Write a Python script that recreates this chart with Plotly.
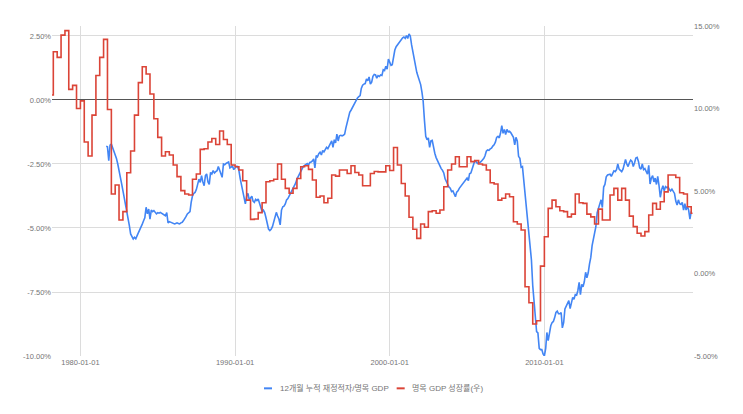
import plotly.graph_objects as go
import pandas as pd

# ---------------- data ----------------
# 12-month cumulative fiscal deficit / nominal GDP (%), monthly from 1981-09
deficit_start = "1981-09-01"
deficit_1981_1985 = [
    -1.81, -1.83, -2.37, -1.76, -1.72, -1.85, -2.0, -2.15, -2.28, -2.5,
    -2.72, -3.0, -3.28, -3.54, -3.8, -4.03, -4.3, -4.6, -4.9, -5.23,
    -5.35, -5.43, -5.36, -5.42, -5.3, -5.2, -5.1, -5.0, -4.85, -4.72,
    -4.6, -4.19, -4.45, -4.26, -4.65, -4.3, -4.36, -4.32, -4.4, -4.45,
    -4.4, -4.42]
deficit_1985_1992 = [
    -4.39, -4.42, -4.45, -4.48, -4.52, -4.40, -4.80, -4.75, -4.78, -4.8,
    -4.82, -4.84, -4.82, -4.80, -4.82, -4.84, -4.8, -4.78, -4.71, -4.65,
    -4.55, -4.45, -4.42, -4.36, -4.0, -3.74, -3.65, -3.61, -3.5, -3.3,
    -3.09, -3.22, -2.96, -3.2, -3.35, -2.95, -2.89, -3.2, -3.3, -2.83,
    -2.89, -2.76, -2.85, -2.8, -2.76, -2.6, -2.75, -2.9, -3.02, -2.5,
    -2.53, -2.48, -2.44, -2.42, -2.65, -2.62, -2.58, -2.72, -2.63, -2.59,
    -2.6, -2.75, -3.06, -3.3, -3.6, -3.9, -4.06, -3.75, -3.65, -3.9,
    -3.85, -3.76, -3.95, -4.0, -3.88, -3.93, -3.87, -4.05, -4.25, -4.36,
    -4.3, -4.4, -4.6, -4.82, -5.04]
deficit_1992_1999 = [
    -5.1, -5.05, -4.95, -4.75, -4.65, -4.39, -4.53, -4.65, -4.88, -4.3,
    -4.17, -4.15, -4.06, -3.9, -3.85, -3.75, -3.67, -3.58, -3.45, -3.36,
    -3.25, -3.09, -2.98, -2.88, -2.8, -2.7, -2.59, -2.55, -2.5, -2.48,
    -2.54, -2.44, -2.42, -2.38, -2.3, -2.65, -2.17, -2.22, -2.1, -2.04,
    -2.15, -1.97, -2.03, -1.92, -1.85, -1.9, -1.78, -1.66, -1.6, -1.85,
    -1.55, -1.68, -1.33, -1.6, -1.4, -1.38, -1.4, -1.38, -1.33, -1.1,
    -0.87, -0.61, -0.48, -0.4, -0.3, -0.2, -0.1, 0.02, 0.08, 0.13,
    0.17, 0.45, 0.58, 0.62, 0.64, 0.82, 0.75, 0.9, 0.62, 0.7,
    0.92, 1.0, 0.98, 0.85, 0.95, 0.92]
deficit_1999_2006 = [
    0.98, 0.96, 1.18, 1.15, 1.32, 1.2, 1.6, 1.48, 1.35, 1.38,
    1.73, 1.95, 2.08, 2.15, 2.23, 2.3, 2.38, 2.43, 2.46, 2.41,
    2.52, 2.4, 2.58, 2.5, 2.15, 1.85, 1.55, 1.25, 1.08, 0.92,
    0.78, 0.6, 0.3, -0.05, -0.8, -1.42, -1.55, -1.48, -1.85, -1.6,
    -1.58, -1.92, -2.08, -2.25, -2.38, -2.5, -2.57, -2.68, -2.75, -2.85,
    -3.08, -3.2, -3.3, -3.4, -3.45, -3.58, -3.55, -3.65, -3.78, -3.6,
    -3.55, -3.45, -3.38, -3.35, -3.28, -3.2, -3.1, -3.05, -3.15, -2.88,
    -2.85, -2.72, -2.55, -2.38, -2.4, -2.48, -2.45, -2.44, -2.4, -2.35,
    -2.28, -2.18, -2.0, -1.95, -1.97]
deficit_2006_2013 = [
    -1.91, -1.88, -1.8, -1.75, -1.65, -1.46, -1.42, -1.48, -1.3, -1.0,
    -1.3, -1.15, -1.35, -1.15, -1.25, -1.22, -1.28, -1.35, -1.46, -1.75,
    -1.46, -1.6, -2.2, -2.28, -2.63, -2.6, -3.1, -3.87, -4.2, -4.7,
    -5.3, -5.6, -6.25, -7.25, -7.97, -8.68, -9.05, -9.1, -9.7, -9.75,
    -9.75, -9.92, -10.0, -9.7, -9.08, -9.4, -9.1, -8.82, -8.7, -8.65,
    -8.5, -8.3, -8.25, -8.35, -8.35, -8.3, -8.9, -8.7, -8.16, -8.05,
    -7.9, -7.84, -8.15, -7.9, -7.71, -7.78, -7.6, -7.62, -7.45, -7.12,
    -7.6, -7.2, -7.3, -7.1, -6.73, -6.95, -6.75, -6.41, -6.15, -5.69,
    -5.45, -5.17, -4.95, -4.4, -4.2, -4.05]
deficit_2013_2019 = [
    -3.9, -4.2, -3.4, -3.3, -3.0, -2.93, -2.9, -2.9, -2.98, -2.85,
    -2.77, -2.8, -2.72, -2.5, -2.7, -2.75, -2.8, -2.7, -2.55, -2.32,
    -2.5, -2.6, -2.45, -2.35, -2.4, -2.6, -2.45, -2.27, -2.24, -2.4,
    -2.65, -2.7, -2.5, -2.72, -2.68, -2.8, -2.9, -2.55, -3.28, -3.05,
    -2.96, -3.2, -3.05, -3.3, -2.98, -3.35, -3.8, -3.5, -3.35, -3.55,
    -3.38, -3.42, -3.4, -3.5, -3.55, -3.48, -3.55, -3.65, -3.95, -4.1,
    -3.9, -4.05, -4.08, -4.0, -4.3, -4.05, -4.3, -4.15, -4.3, -4.65,
    -4.35]

# Nominal GDP growth (%), quarterly (right axis)
growth_first_date = "1978-03-01"
growth_first_value = 10.82
growth_q_start = "1978-04-01"
growth_q = [
    13.44, 13.1, 14.45, 14.72, 11.16, 11.4, 10.0, 10.46, 7.97, 7.12,
    9.6, 12.0, 13.1, 14.19, 9.94, 4.82, 5.36, 3.24, 3.75, 6.11,
    7.42, 9.6, 11.57, 12.53, 12.09, 10.88, 9.38, 8.25, 7.12, 7.38,
    7.18, 6.58, 5.87, 5.02, 4.82, 4.76, 5.71, 6.03, 7.52, 7.56,
    7.97, 8.18, 7.82, 8.64, 8.12, 7.82, 6.58, 6.47, 6.27, 5.62,
    4.45, 3.28, 3.3, 3.69, 4.29, 5.56, 5.62, 5.71, 6.64, 5.71,
    5.16, 4.86, 5.16, 5.76, 6.47, 6.53, 6.31, 5.67, 4.62, 4.7,
    4.29, 4.56, 5.97, 5.9, 6.27, 6.27, 6.06, 6.53, 6.12, 5.97,
    5.32, 5.32, 6.06, 6.18, 6.16, 6.16, 6.53, 6.24, 7.64, 6.58,
    5.45, 4.7, 3.41, 2.68, 2.13, 3.0, 2.8, 3.75, 3.8, 3.65,
    3.85, 5.26, 6.27, 6.64, 7.08, 6.47, 6.47, 7.08, 6.78, 6.84,
    6.64, 6.58, 6.27, 5.5, 5.42, 4.45, 4.56, 4.82, 4.65, 3.14,
    3.0, 2.64, -0.8, -1.77, -3.06, -2.86, 0.45, 2.23, 3.95, 4.45,
    4.05, 3.8, 3.75, 3.43, 3.6, 4.82, 4.29, 4.25, 3.6, 3.43,
    3.0, 3.9, 3.24, 3.24, 4.76, 5.16, 4.45, 5.16, 4.45, 3.48,
    2.84, 2.44, 2.27, 2.54, 3.55, 4.25, 3.89, 4.35, 4.95, 5.97,
    5.97, 5.82, 4.89, 4.82, 4.05, 3.65]
growth_last_date = "2019-08-01"

x_tick_vals = ["1980-01-01", "1990-01-01", "2000-01-01", "2010-01-01"]
x_tick_text = ["1980-01-01", "1990-01-01", "2000-01-01", "2010-01-01"]
left_ticks = [-10, -7.5, -5, -2.5, 0, 2.5]
right_ticks = [-5, 0, 5, 10, 15]

name_deficit = "12개월 누적 재정적자/명목 GDP"
name_growth = "명목 GDP 성장률(우)"

# ---------------- build ----------------
deficit = (deficit_1981_1985 + deficit_1985_1992 + deficit_1992_1999 +
           deficit_1999_2006 + deficit_2006_2013 + deficit_2013_2019)
deficit_dates = pd.date_range(deficit_start, periods=len(deficit), freq="MS")

growth_dates = ([pd.Timestamp(growth_first_date)] +
                list(pd.date_range(growth_q_start, periods=len(growth_q), freq="QS")) +
                [pd.Timestamp(growth_last_date)])
growth = [growth_first_value] + growth_q + [growth_q[-1]]

FONT = "Arial, 'Liberation Sans', 'Noto Sans CJK KR', sans-serif"
BLUE = "#4285F4"
RED = "#DB4437"
TXT = "#757575"

fig = go.Figure()
fig.add_trace(go.Scatter(x=deficit_dates, y=deficit, name=name_deficit, mode="lines",
                         line=dict(color=BLUE, width=1.6), yaxis="y", showlegend=False))
fig.add_trace(go.Scatter(x=growth_dates, y=growth, name=name_growth, mode="lines",
                         line=dict(color=RED, width=1.6, shape="hv"), yaxis="y2",
                         showlegend=False))

# compact legend (short line swatches + labels) centred under the plot
legend_y = -0.098
legend_items = [(name_deficit, BLUE, 0.3307), (name_growth, RED, 0.5377)]
shapes, annotations = [], []
for label, color, x0 in legend_items:
    shapes.append(dict(type="line", xref="paper", yref="paper",
                       x0=x0, x1=x0 + 0.0125, y0=legend_y, y1=legend_y,
                       line=dict(color=color, width=2)))
    annotations.append(dict(text=label, xref="paper", yref="paper",
                            x=x0 + 0.0215, y=legend_y, xanchor="left", yanchor="middle",
                            showarrow=False, font=dict(size=8, color=TXT)))

fig.update_layout(
    width=743, height=414, autosize=False,
    margin=dict(l=52, r=50, t=26, b=58),
    paper_bgcolor="white", plot_bgcolor="white",
    font=dict(family=FONT, size=7.5, color=TXT),
    showlegend=False,
    shapes=shapes, annotations=annotations,
    xaxis=dict(type="date", range=["1978-03-01", "2019-08-12"],
               tickvals=x_tick_vals, ticktext=x_tick_text,
               showgrid=True, gridcolor="#dcdcdc", gridwidth=1,
               zeroline=False, showline=False, ticks="",
               tickfont=dict(size=7.5, color=TXT)),
    yaxis=dict(range=[-10, 2.89], tickvals=left_ticks,
               ticktext=[f"{v:.2f}%" for v in left_ticks],
               showgrid=True, gridcolor="#dcdcdc", gridwidth=1,
               zeroline=True, zerolinecolor="#555555", zerolinewidth=1,
               showline=False, ticks="", tickfont=dict(size=7.5, color=TXT)),
    yaxis2=dict(range=[-5, 15], overlaying="y", side="right", tickvals=right_ticks,
                ticktext=[f"{v:.2f}%" for v in right_ticks],
                showgrid=False, zeroline=False, showline=False, ticks="",
                tickfont=dict(size=7.5, color=TXT)),
)

fig.write_html("out.html", post_script="document.body.style.margin='0';")
